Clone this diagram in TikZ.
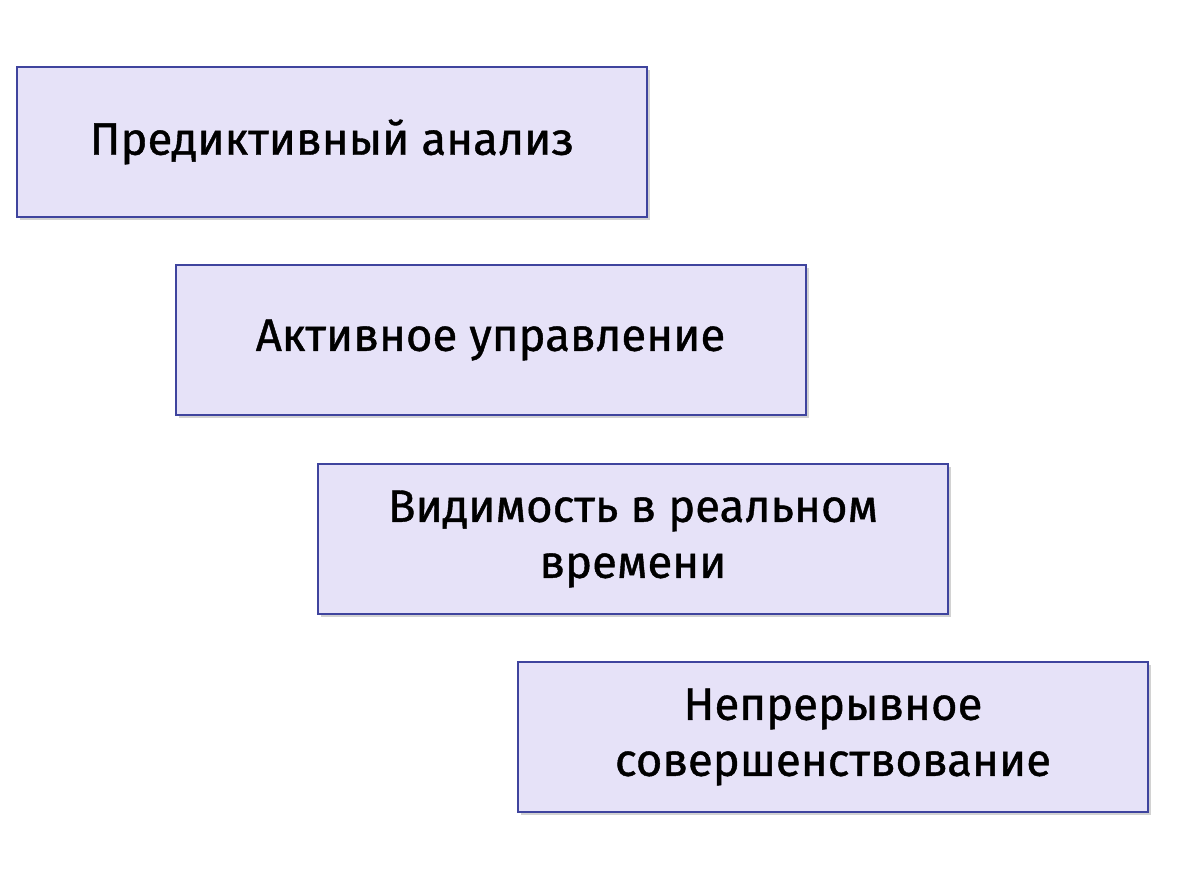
\documentclass[tikz,border=0pt]{standalone}
\usepackage{fontspec}
\usetikzlibrary{shadows}
\setmainfont{Fira Sans}
\newfontfamily\boxfont{Fira Sans}[FakeBold=0.9]
\begin{document}
\begin{tikzpicture}[x=1pt,y=-1pt,
  box/.style={draw=boxline,line width=2pt,fill=boxfill,minimum width=630pt,minimum height=150pt,align=center,font=\boxfont\fontsize{45.5}{56}\selectfont,inner sep=0pt,
  drop shadow={shadow xshift=3pt,shadow yshift=-3pt,fill=black!35}}]
\definecolor{boxfill}{HTML}{E6E2F8}
\definecolor{boxline}{HTML}{3F449E}
\useasboundingbox (0,0) rectangle (1193,896);
\node[box] (a) at (332,142) {Предиктивный анализ};
\node[box] (b) at (490.5,340) {Активное управление};
\node[box] (c) at (633,539) {Видимость в реальном\\времени};
\node[box] (d) at (833,737) {Непрерывное\\совершенствование};
\end{tikzpicture}
\end{document}
